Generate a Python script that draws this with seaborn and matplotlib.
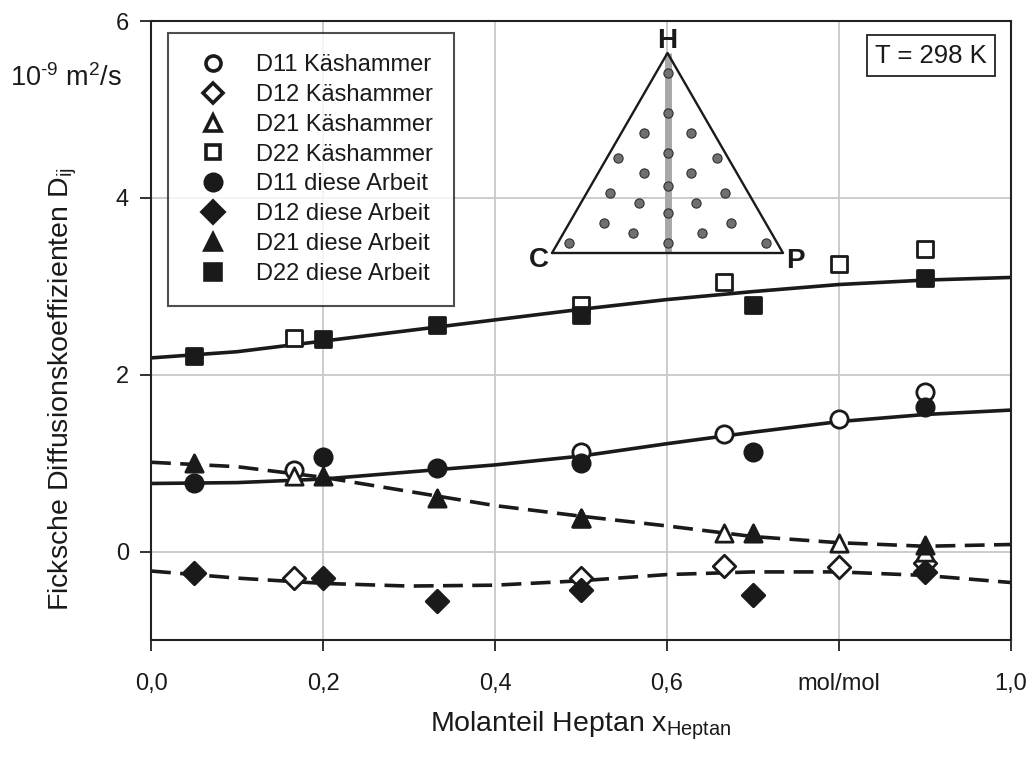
import numpy as np
import pandas as pd
import matplotlib
matplotlib.use("Agg")
import matplotlib.pyplot as plt
import seaborn as sns
from matplotlib.lines import Line2D

# ---------------- data ----------------
x_kae = [0.166, 0.5, 0.666, 0.8, 0.9]
D11_kae = [0.92, 1.13, 1.33, 1.50, 1.80]
D12_kae = [-0.30, -0.30, -0.16, -0.18, -0.13]
D21_kae = [0.85, 0.38, 0.21, 0.10, -0.01]
D22_kae = [2.42, 2.79, 3.05, 3.25, 3.42]

x_arb = [0.05, 0.2, 0.333, 0.5, 0.7, 0.9]
D11_arb = [0.78, 1.07, 0.95, 1.00, 1.13, 1.64]
D12_arb = [-0.24, -0.30, -0.56, -0.43, -0.49, -0.23]
D21_arb = [1.00, 0.85, 0.61, 0.38, 0.21, 0.07]
D22_arb = [2.21, 2.40, 2.56, 2.68, 2.79, 3.09]

x_fit = [0.0, 0.1, 0.2, 0.3, 0.4, 0.5, 0.6, 0.7, 0.8, 0.9, 1.0]
D11_fit = [0.77, 0.78, 0.82, 0.90, 0.98, 1.08, 1.22, 1.35, 1.47, 1.55, 1.60]
D12_fit = [-0.22, -0.30, -0.36, -0.39, -0.38, -0.33, -0.26, -0.23, -0.23, -0.27, -0.35]
D21_fit = [1.01, 0.96, 0.84, 0.68, 0.52, 0.40, 0.29, 0.17, 0.10, 0.06, 0.08]
D22_fit = [2.19, 2.26, 2.38, 2.50, 2.62, 2.74, 2.85, 2.94, 3.02, 3.07, 3.10]

x_ticks = [0.0, 0.2, 0.4, 0.6, 0.8, 1.0]
x_ticklabels = ["0,0", "0,2", "0,4", "0,6", "mol/mol", "1,0"]
y_ticks = [0, 2, 4, 6]
y_ticklabels = ["0", "2", "4", "6"]

# ternary inset: heptane (H) and P fraction of the measured compositions
tern_H = [0.9, 0.7, 0.5, 0.333, 0.2, 0.05,
          0.6, 0.6, 0.475, 0.475, 0.4, 0.4, 0.3, 0.3,
          0.25, 0.25, 0.15, 0.15, 0.1, 0.1, 0.05, 0.05]
tern_P = [0.05, 0.15, 0.25, 0.3335, 0.4, 0.475,
          0.1, 0.3, 0.05, 0.475, 0.2, 0.4, 0.1, 0.6,
          0.25, 0.5, 0.15, 0.7, 0.3, 0.6, 0.05, 0.9]

# ---------------- style ----------------
sns.set_theme(style="white")
plt.rcParams["font.family"] = ["Liberation Sans", "DejaVu Sans"]
plt.rcParams["mathtext.fontset"] = "custom"
plt.rcParams["mathtext.rm"] = "Liberation Sans"

INK = "#1a1a1a"
W, H = 1034, 757
fig = plt.figure(figsize=(W / 100, H / 100), dpi=100)
ax = fig.add_axes([151 / W, 1 - 640 / H, (1011 - 151) / W, (640 - 21) / H])

# grid
for gx in [0.2, 0.4, 0.6, 0.8]:
    ax.axvline(gx, color="#c8c8c8", lw=1.3, zorder=0)
for gy in [0, 2, 4]:
    ax.axhline(gy, color="#c8c8c8", lw=1.3, zorder=0)

# fit curves
sns.lineplot(x=x_fit, y=D22_fit, ax=ax, color=INK, lw=2.6, zorder=2)
sns.lineplot(x=x_fit, y=D11_fit, ax=ax, color=INK, lw=2.6, zorder=2)
sns.lineplot(x=x_fit, y=D21_fit, ax=ax, color=INK, lw=2.6, zorder=2)
sns.lineplot(x=x_fit, y=D12_fit, ax=ax, color=INK, lw=2.6, zorder=2)
for ln in ax.lines[-2:]:
    ln.set_dashes([5.5, 2.6])

ms = 155
ew = 2.0
mk = {"D11": "o", "D12": "D", "D21": "^", "D22": "s"}
sizes = {"D11": ms, "D12": ms * 0.85, "D21": ms, "D22": ms * 0.9}
kae = {"D11": D11_kae, "D12": D12_kae, "D21": D21_kae, "D22": D22_kae}
arb = {"D11": D11_arb, "D12": D12_arb, "D21": D21_arb, "D22": D22_arb}
for k in ["D11", "D12", "D21", "D22"]:
    sns.scatterplot(x=x_kae, y=kae[k], ax=ax, marker=mk[k], s=sizes[k],
                    facecolor="white", edgecolor=INK, linewidth=ew, zorder=3)
for k in ["D11", "D12", "D21", "D22"]:
    sns.scatterplot(x=x_arb, y=arb[k], ax=ax, marker=mk[k], s=sizes[k],
                    facecolor=INK, edgecolor=INK, linewidth=ew, zorder=4)

ax.set_xlim(0, 1)
ax.set_ylim(-1, 6)
ax.set_xticks(x_ticks)
ax.set_xticklabels(x_ticklabels)
ax.set_yticks(y_ticks)
ax.set_yticklabels(y_ticklabels)
ax.tick_params(axis="both", direction="out", length=8, width=1.3, color="#222222",
               labelsize=17, bottom=True, left=True, top=False, right=False,
               labelcolor=INK)
ax.tick_params(axis="x", pad=16)
ax.tick_params(axis="y", pad=8)
for sp in ax.spines.values():
    sp.set_visible(True)
    sp.set_color("#222222")
    sp.set_linewidth(1.5)

ax.set_xlabel("Molanteil Heptan x$_\\mathregular{Heptan}$", fontsize=20.5, color=INK)
ax.xaxis.set_label_coords(0.5, -0.112)
ax.set_ylabel("Ficksche Diffusionskoeffizienten D$_\\mathregular{ij}$", fontsize=20.5, color=INK)
ax.yaxis.set_label_coords(-0.084, 0.405)
fig.text(10 / W, 1 - 78 / H, "10$^\\mathregular{\u20109}$ m$^\\mathregular{2}$/s", fontsize=19.5,
         va="center", ha="left", color=INK)

# legend
labels = ["D11 Käshammer", "D12 Käshammer", "D21 Käshammer", "D22 Käshammer",
          "D11 diese Arbeit", "D12 diese Arbeit", "D21 diese Arbeit", "D22 diese Arbeit"]
handles = []
for i, k in enumerate(["D11", "D12", "D21", "D22"] * 2):
    filled = i >= 4
    handles.append(Line2D([], [], linestyle="none", marker=mk[k],
                          markersize=np.sqrt(sizes[k]) * (0.95 if filled else 0.87),
                          markerfacecolor=INK if filled else "white",
                          markeredgecolor=INK, markeredgewidth=2.6))
leg = ax.legend(handles, labels, loc="upper left", bbox_to_anchor=(0.0198, 0.9806),
                borderaxespad=0, frameon=True, fancybox=False, fontsize=17,
                labelspacing=0.33, borderpad=0.9, handlelength=2.05,
                handletextpad=0.76, labelcolor=INK)
leg.get_frame().set_edgecolor("#222222")
leg.get_frame().set_linewidth(1.5)
leg.set_zorder(6)

# temperature box
ax.text(0.907, 0.9435, "T = 298 K", transform=ax.transAxes, fontsize=18.5, ha="center",
        va="center", color=INK, zorder=6,
        bbox=dict(boxstyle="square,pad=0.33", facecolor="white", edgecolor="#222222", lw=1.3))

# ternary inset
h = np.sqrt(3) / 2
iax = fig.add_axes([552 / W, 1 - 253 / H, 231 / W, 200 / H])
iax.set_xlim(0, 1)
iax.set_ylim(0, h)
iax.axis("off")
iax.plot([0.5, 0.5], [0, h], color="#a8a8a8", lw=5, solid_capstyle="butt", zorder=1)
iax.plot([0, 1, 0.5, 0], [0, 0, h, 0], color=INK, lw=1.7, zorder=2, clip_on=False)
tx = np.array(tern_P) + np.array(tern_H) / 2
ty = np.array(tern_H) * h
sns.scatterplot(x=tx, y=ty, ax=iax, s=44, color="#707070", edgecolor="#303030",
                linewidth=0.8, zorder=3, clip_on=False)
iax.text(0.5, h + 0.022, "H", fontsize=20, fontweight="bold", ha="center", va="baseline", color=INK)
iax.text(-0.015, -0.03, "C", fontsize=20, fontweight="bold", ha="right", va="center", color=INK)
iax.text(1.015, -0.035, "P", fontsize=20, fontweight="bold", ha="left", va="center", color=INK)

fig.savefig("out.png", dpi=100)
